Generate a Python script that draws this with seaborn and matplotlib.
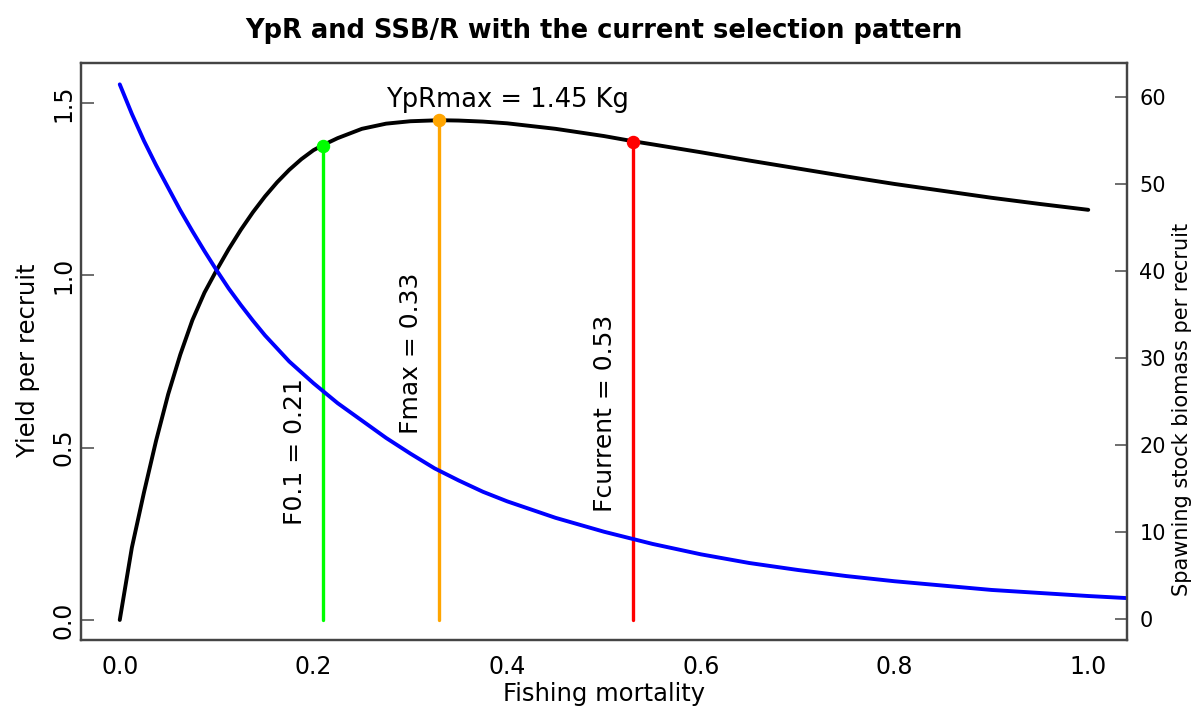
import numpy as np
import pandas as pd
import matplotlib
matplotlib.use("Agg")
import matplotlib.pyplot as plt
import seaborn as sns

# yield per recruit (kg)
F_ypr = [0.0, 0.0125, 0.025, 0.0375, 0.05, 0.0625, 0.075, 0.0875, 0.1, 0.1125, 0.125,
         0.1375, 0.15, 0.1625, 0.175, 0.1875, 0.2, 0.21, 0.225, 0.25, 0.275, 0.3, 0.33,
         0.35, 0.375, 0.4, 0.45, 0.5, 0.53, 0.55, 0.6, 0.65, 0.7, 0.75, 0.8, 0.85, 0.9,
         0.95, 1.0]
ypr = [0.0, 0.21, 0.37, 0.52, 0.655, 0.77, 0.87, 0.95, 1.015, 1.076, 1.132,
       1.183, 1.229, 1.27, 1.306, 1.337, 1.363, 1.378, 1.398, 1.425, 1.44, 1.447, 1.45,
       1.449, 1.446, 1.441, 1.425, 1.404, 1.389, 1.38, 1.357, 1.333, 1.31, 1.287, 1.265,
       1.245, 1.225, 1.207, 1.19]

# spawning stock biomass per recruit
F_ssb = [0.0, 0.0125, 0.025, 0.0375, 0.05, 0.0625, 0.075, 0.0875, 0.1, 0.1125, 0.125,
         0.1375, 0.15, 0.175, 0.2, 0.225, 0.25, 0.275, 0.3, 0.325, 0.35, 0.375, 0.4,
         0.45, 0.5, 0.55, 0.6, 0.65, 0.7, 0.75, 0.8, 0.85, 0.9, 0.95, 1.0, 1.05, 1.1]
ssb = [61.5, 58.1, 55.0, 52.2, 49.6, 47.0, 44.6, 42.3, 40.1, 38.0, 36.1,
       34.3, 32.6, 29.6, 27.1, 24.8, 22.8, 20.8, 19.0, 17.3, 15.9, 14.6, 13.5,
       11.6, 10.0, 8.6, 7.4, 6.4, 5.6, 4.9, 4.3, 3.8, 3.3, 2.95, 2.6, 2.3, 2.0]

# reference points
ref_names = ["F0.1", "Fmax", "Fcurrent"]
ref_F = [0.21, 0.33, 0.53]
ref_ypr = [1.375, 1.45, 1.387]
ref_cols = ["#00ff00", "#ffa500", "#ff0000"]
lab_y = [0.49, 0.775, 0.60]

sns.set_style("white")
plt.rcParams['font.family'] = ['DejaVu Sans']
plt.rcParams['text.color'] = 'black'
plt.rcParams['axes.labelcolor'] = 'black'
plt.rcParams['xtick.labelcolor'] = 'black'
plt.rcParams['ytick.labelcolor'] = 'black'

fig, ax = plt.subplots(figsize=(12.02, 7.11), dpi=100)
fig.subplots_adjust(left=0.0674, right=0.9376, bottom=0.0999, top=0.9114)

sns.lineplot(x=F_ypr, y=ypr, ax=ax, color="black", lw=2.8, zorder=3)

for name, f, y, c, ly in zip(ref_names, ref_F, ref_ypr, ref_cols, lab_y):
    ax.plot([f, f], [0, y], color=c, lw=2.4, zorder=2)
    ax.scatter([f], [y], color=c, s=75, zorder=4)
    ax.text(f - 0.029, ly, f"{name} = {f:.2f}", rotation=90, ha="center", va="center",
            fontsize=18)

ax.text(0.40, 1.51, "YpRmax = 1.45 Kg", ha="center", va="center", fontsize=18.5)

ax.set_xlim(-0.04, 1.04)
ax.set_ylim(-0.058, 1.616)
ax.set_xticks([0.0, 0.2, 0.4, 0.6, 0.8, 1.0])
ax.set_xticklabels(["0.0", "0.2", "0.4", "0.6", "0.8", "1.0"])
ax.set_yticks([0.0, 0.5, 1.0, 1.5])
ax.set_yticklabels(["0.0", "0.5", "1.0", "1.5"])
for lab in ax.get_yticklabels():
    lab.set_rotation(90)
    lab.set_va("center")
ax.tick_params(axis="x", direction="in", length=9, width=1.2, color="#555555",
               labelsize=17, pad=11)
ax.tick_params(axis="y", direction="in", length=9, width=1.2, color="#555555",
               labelsize=17, pad=4)
ax.set_xlabel("Fishing mortality", fontsize=17.5, labelpad=2)
ax.set_ylabel("Yield per recruit", fontsize=17.5, labelpad=8)
ax.yaxis.set_label_coords(-0.039, 0.485)

ax2 = ax.twinx()
sns.lineplot(x=F_ssb, y=ssb, ax=ax2, color="blue", lw=2.8)
ax2.set_ylim(-2.46, 63.96)
ax2.set_yticks([0, 10, 20, 30, 40, 50, 60])
ax2.tick_params(axis="y", direction="in", length=9, width=1.2, color="#555555",
                labelsize=15, pad=9)
ax2.set_ylabel("Spawning stock biomass per recruit", fontsize=15)
ax2.yaxis.set_label_coords(1.043, 0.40)

for a in (ax, ax2):
    for sp in a.spines.values():
        sp.set_color("#444444")
        sp.set_linewidth(1.6)

ax.set_title("YpR and SSB/R with the current selection pattern", fontsize=18.5,
             fontweight="bold", pad=18)

plt.savefig("out.png", dpi=100)
plt.close()
